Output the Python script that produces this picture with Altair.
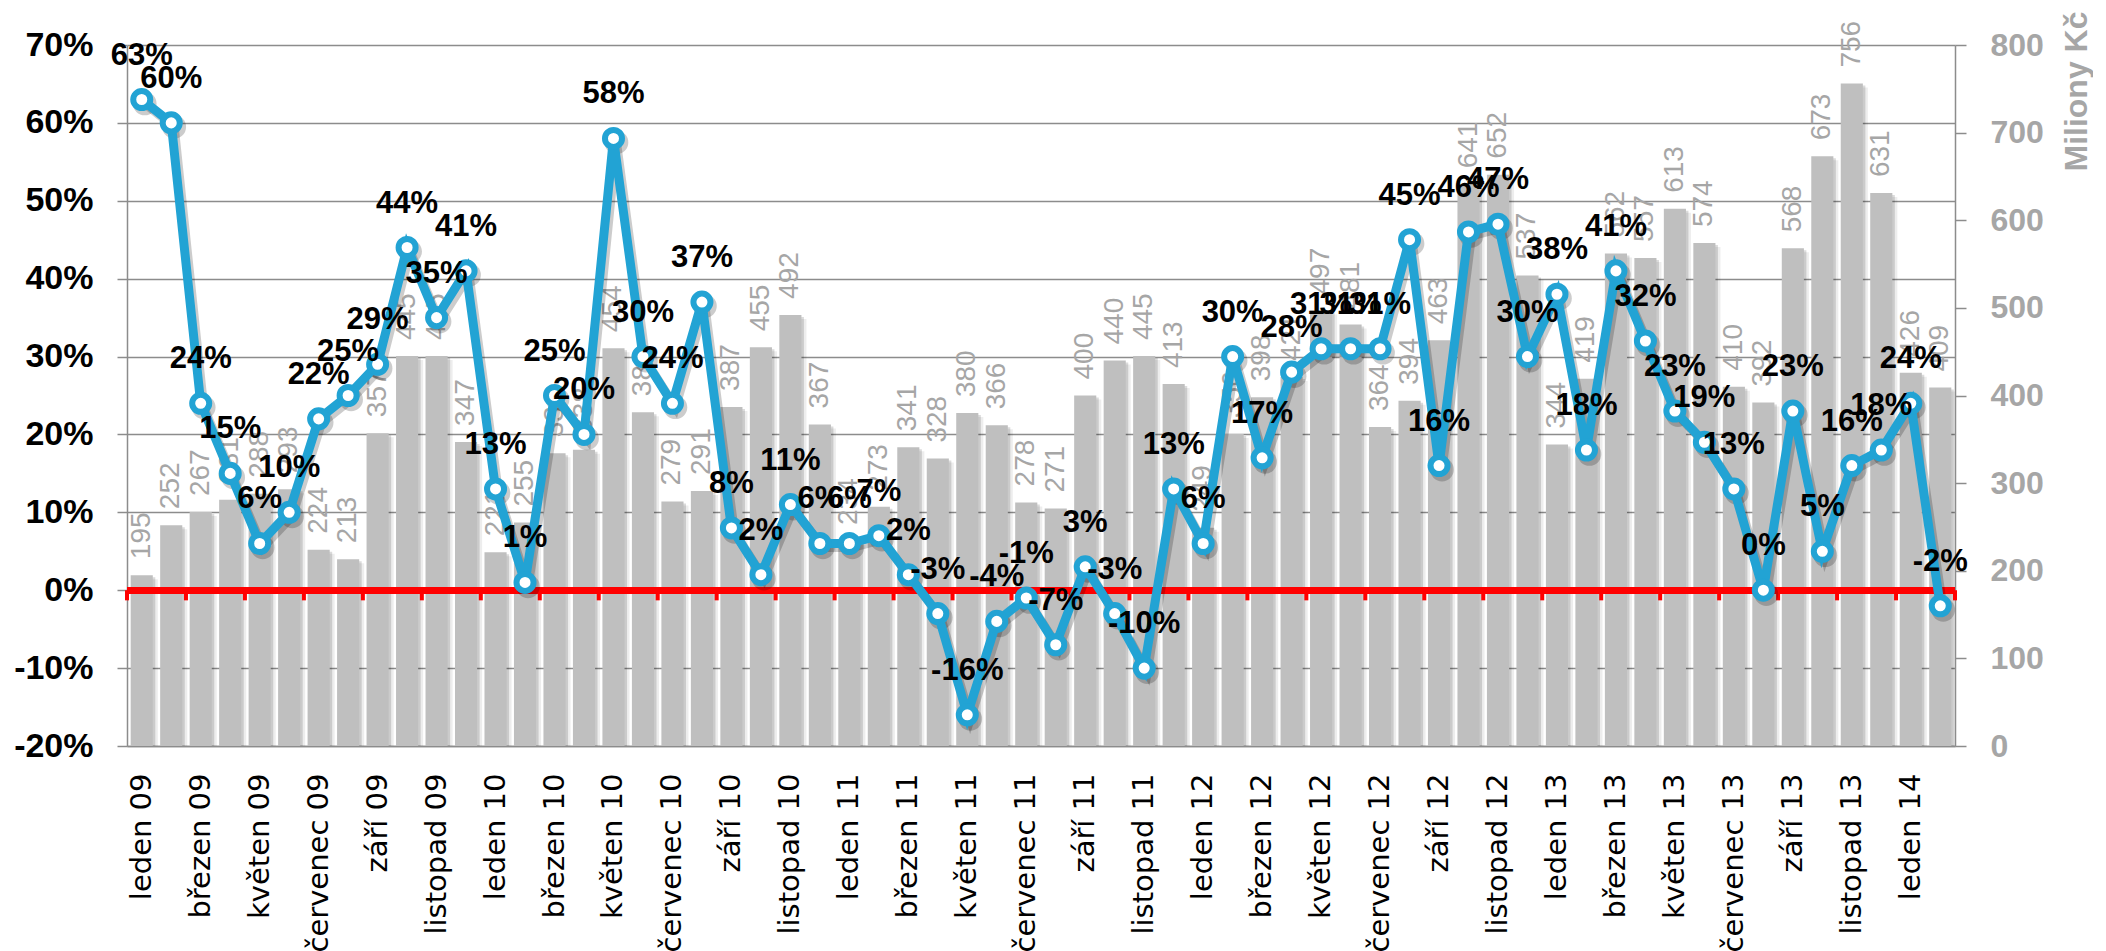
import altair as alt
import pandas as pd

months = ["leden", "únor", "březen", "duben", "květen", "červen",
          "červenec", "srpen", "září", "říjen", "listopad", "prosinec"]
years = ["09", "10", "11", "12", "13", "14"]

# Objem (Miliony Kč) - pravá osa
volume = [195, 252, 267, 281, 288, 293, 224, 213, 357, 445, 445, 347,
          221, 255, 334, 338, 454, 381, 279, 291, 387, 455, 492, 367,
          234, 273, 341, 328, 380, 366, 278, 271, 400, 440, 445, 413,
          249, 356, 398, 421, 497, 481, 364, 394, 463, 641, 652, 537,
          344, 419, 562, 557, 613, 574, 410, 392, 568, 673, 756, 631,
          426, 409]

# Meziroční změna (%) - levá osa
growth = [63, 60, 24, 15, 6, 10, 22, 25, 29, 44, 35, 41,
          13, 1, 25, 20, 58, 30, 24, 37, 8, 2, 11, 6,
          6, 7, 2, -3, -16, -4, -1, -7, 3, -3, -10, 13,
          6, 30, 17, 28, 31, 31, 31, 45, 16, 46, 47, 30,
          38, 18, 41, 32, 23, 19, 13, 0, 23, 5, 16, 18,
          24, -2]

left_ticks = [-20, -10, 0, 10, 20, 30, 40, 50, 60, 70]
right_ticks = [0, 100, 200, 300, 400, 500, 600, 700, 800]

categories = [f"{m} {y}" for y in years for m in months][:len(volume)]
tick_labels = categories[::2]

df = pd.DataFrame({
    "mesic": categories,
    "objem": volume,
    "rust": growth,
    "idx": list(range(len(volume))),
})
df["rust_lbl"] = df["rust"].astype(str) + "%"

W, H = 1828, 701
step = W / len(categories)

BLUE = "#22A3D4"
GRAY_AX = "#8C8C8C"
LBL_GRAY = "#A6A6A6"

x_enc = alt.X(
    "mesic:N", sort=categories,
    scale=alt.Scale(paddingInner=0.25, paddingOuter=0.125),
    axis=alt.Axis(values=tick_labels, labelAngle=270, labelFont="DejaVu Sans",
                  labelFontSize=29, labelColor="black", labelPadding=27,
                  ticks=False, domainColor=GRAY_AX, domainWidth=1.5,
                  grid=False, title=None, labelOverlap=False),
)

y_bar = alt.Y(
    "objem:Q",
    scale=alt.Scale(domain=[0, 800], nice=False, zero=True),
    axis=alt.Axis(orient="right", values=right_ticks, labelFont="Liberation Sans",
                  labelFontWeight="bold", labelFontSize=32, labelColor=LBL_GRAY,
                  tickSize=11, tickColor=GRAY_AX, tickWidth=1.5,
                  domainColor=GRAY_AX, domainWidth=1.5, labelPadding=24,
                  grid=False, title="Miliony Kč", titleFont="Liberation Sans",
                  titleFontWeight="bold", titleFontSize=32, titleColor=LBL_GRAY,
                  titleAngle=270, titleAnchor="end", titleAlign="right",
                  titleBaseline="top", titleY=-34, titlePadding=18,
                  titleLimit=1000),
)

y_line = alt.Y(
    "rust:Q",
    scale=alt.Scale(domain=[-20, 70], nice=False, zero=False),
    axis=alt.Axis(orient="left", values=left_ticks, labelExpr="datum.value + '%'",
                  labelFont="Liberation Sans", labelFontWeight="bold",
                  labelFontSize=34, labelColor="black", tickSize=10,
                  tickColor=GRAY_AX, tickWidth=1.5, domainColor=GRAY_AX,
                  domainWidth=1.5, grid=True, gridColor=GRAY_AX, gridWidth=1.5,
                  labelPadding=24, title=None),
)

base = alt.Chart(df)

bar_shadow2 = base.mark_bar(color="black", opacity=0.07, xOffset=5, yOffset=4, clip=True).encode(x=x_enc, y=y_bar)
bar_shadow = base.mark_bar(color="black", opacity=0.14, xOffset=2.5, yOffset=2, clip=True).encode(x=x_enc, y=y_bar)
bars = base.mark_bar(color="#BFBFBF").encode(x=x_enc, y=y_bar)
bar_labels = base.mark_text(angle=270, align="left", baseline="middle", dx=16,
                            font="Liberation Sans", fontSize=28, color=LBL_GRAY
                            ).encode(x=x_enc, y=y_bar, text="objem:Q")

bar_group = alt.layer(bar_shadow2, bar_shadow, bars, bar_labels)

zero_line = base.mark_rule(color="#FF0000", strokeWidth=6).encode(y=alt.datum(0))
red_ticks = base.transform_filter("datum.idx % 2 == 1").mark_rule(
    color="#FF0000", strokeWidth=4, xOffset=step / 2).encode(
    x=x_enc, y=alt.datum(0), y2=alt.datum(-1.3))
red_tick0 = base.transform_filter("datum.idx == 0").mark_rule(
    color="#FF0000", strokeWidth=4, xOffset=-step / 2).encode(
    x=x_enc, y=alt.datum(0), y2=alt.datum(-1.3))

line_shadow = base.mark_line(color="black", opacity=0.2, strokeWidth=9, xOffset=3, yOffset=4).encode(x=x_enc, y=y_line)
line = base.mark_line(color=BLUE, strokeWidth=9).encode(x=x_enc, y=y_line)
pt_shadow = base.mark_point(shape="circle", filled=True, color="black", opacity=0.2,
                            size=560, xOffset=3, yOffset=4).encode(x=x_enc, y=y_line)
points = base.mark_point(shape="circle", fill="white", stroke=BLUE, strokeWidth=6,
                         size=290, opacity=1, fillOpacity=1, strokeOpacity=1
                         ).encode(x=x_enc, y=y_line)
pt_labels = base.mark_text(dy=-44, font="Liberation Sans", fontWeight="bold",
                           fontSize=31, color="black").encode(x=x_enc, y=y_line, text="rust_lbl:N")

line_group = alt.layer(zero_line, red_ticks, red_tick0, line_shadow, pt_shadow, line, points, pt_labels)

chart = alt.layer(bar_group, line_group).resolve_scale(y="independent").properties(
    width=W, height=H,
    padding={"left": 5, "top": 2, "right": 0, "bottom": 0},
    background="white",
).configure_view(stroke=None)

chart.save("out.html", embed_options={"renderer": "svg", "actions": False})
